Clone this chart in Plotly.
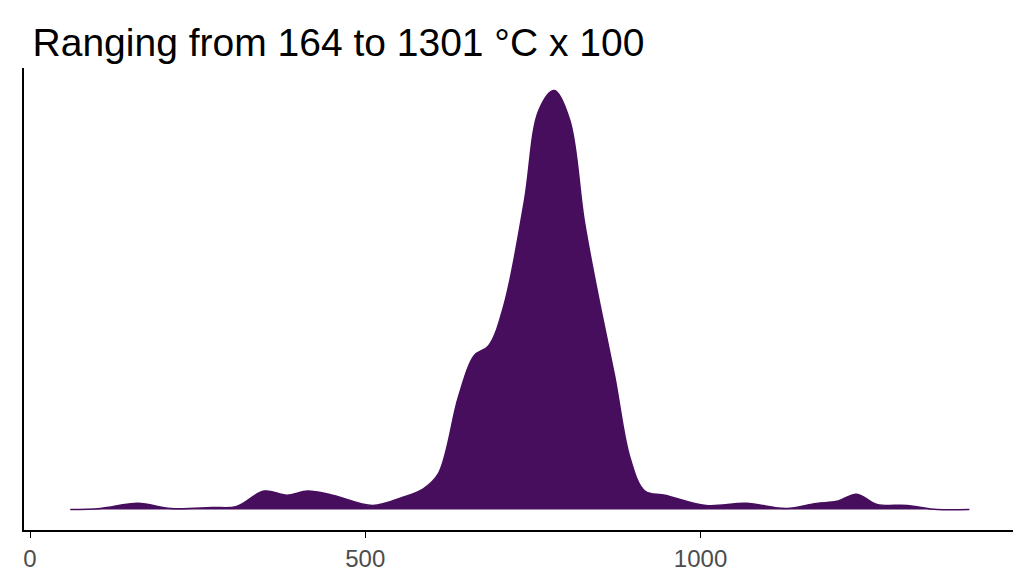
import plotly.graph_objects as go

# density curve (height in arbitrary units)
temp = [60, 105, 161, 210, 271, 308, 349, 383, 414, 451, 511, 556, 586, 609,
        639, 662, 684, 707, 737, 759, 782, 805, 827, 850, 872, 895, 917, 947,
        1008, 1068, 1128, 1173, 1203, 1233, 1263, 1308, 1353, 1401]
dens = [0, 1, 6, 1, 2, 3, 18, 14, 18, 14, 4, 12, 20, 35,
        110, 150, 160, 200, 300, 390, 409, 380, 280, 200, 130, 50, 18, 14,
        4, 6, 1, 6, 8, 15, 5, 4, 0, 0]

fig = go.Figure()
fig.add_trace(go.Scatter(
    x=temp, y=dens, mode="lines", line=dict(color="#470E5E", width=1.5, shape="spline", smoothing=1),
    fill="tozeroy", fillcolor="#470E5E", hoverinfo="skip"))

fig.update_layout(
    width=1024, height=576, plot_bgcolor="white", paper_bgcolor="white",
    showlegend=False, margin=dict(l=16, r=19, t=60, b=49),
    font=dict(family="Liberation Sans, Arial", color="black"),
    title=dict(text="Ranging from 164 to 1301 °C x 100", x=0.024, xanchor="left",
               y=0.94, yanchor="middle", font=dict(size=39, color="black")),
)
fig.update_xaxes(range=[-9, 1466], tickvals=[0, 500, 1000], showgrid=False, zeroline=False,
                 showline=True, linecolor="black", linewidth=2, ticks="outside",
                 ticklen=6, tickcolor="black", tickfont=dict(size=24, color="#4d4d4d"))
fig.update_yaxes(range=[-20, 431], showticklabels=False, showgrid=False, zeroline=False,
                 showline=True, linecolor="black", linewidth=2)

fig.write_html("out.html")
